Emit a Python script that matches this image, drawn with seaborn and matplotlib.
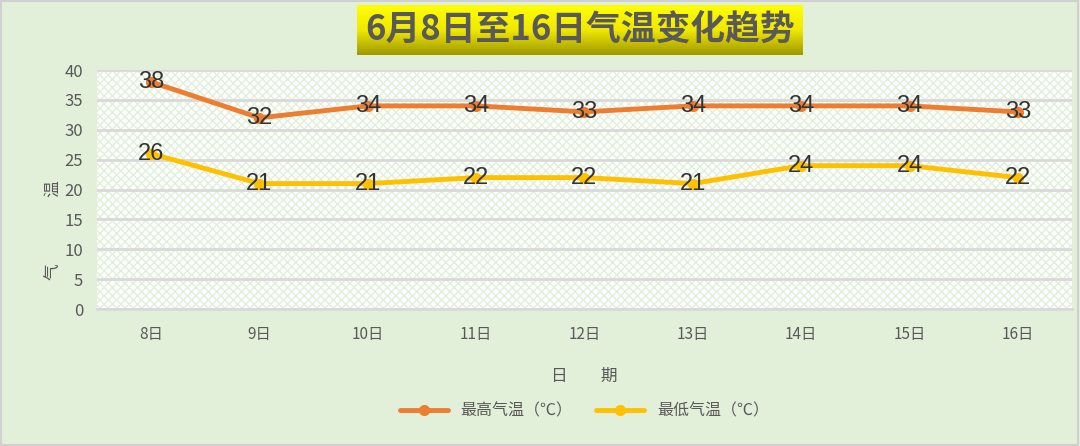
import numpy as np
import pandas as pd
import matplotlib
matplotlib.use("Agg")
import matplotlib.pyplot as plt
import seaborn as sns
from matplotlib.patches import Rectangle
from matplotlib.colors import LinearSegmentedColormap

days = ["8日", "9日", "10日", "11日", "12日", "13日", "14日", "15日", "16日"]
high = [38, 32, 34, 34, 33, 34, 34, 34, 33]
low = [26, 21, 21, 22, 22, 21, 24, 24, 22]
series_names = ["最高气温（℃）", "最低气温（℃）"]
title = "6月8日至16日气温变化趋势"
yticks = [0, 5, 10, 15, 20, 25, 30, 35, 40]

sns.set_style("white")
plt.rcParams['font.family'] = ['Noto Sans CJK SC', 'DejaVu Sans']

df = pd.DataFrame({
    "day": days * 2,
    "x": list(range(len(days))) * 2,
    "temp": high + low,
    "series": [series_names[0]] * len(days) + [series_names[1]] * len(days),
})

bg = "#E2EFD9"
fig = plt.figure(figsize=(10.8, 4.46), dpi=100, facecolor=bg)
fig.patches.append(Rectangle((0.001, 0.002), 0.997, 0.995, transform=fig.transFigure,
                             fill=False, edgecolor="#D0D0D0", linewidth=1.5))

ax = fig.add_axes([0.0898, 0.307, 0.9028, 0.536])
ax.set_facecolor("white")
ax.add_patch(Rectangle((0, 0), 1, 1, transform=ax.transAxes, facecolor="white",
                       edgecolor="#E0F0D8", hatch="xxxx", linewidth=0, zorder=0))

palette = {series_names[0]: "#ED7D31", series_names[1]: "#FFC000"}
sns.lineplot(data=df, x="x", y="temp", hue="series", palette=palette, ax=ax,
             linewidth=3.5, marker="o", markersize=8, markeredgewidth=0, zorder=3,
             legend=True)

for xi, v in enumerate(high):
    ax.text(xi, v, str(v), ha="center", va="center", fontsize=17, color="#333333",
            family=["Liberation Sans"], zorder=5)
for xi, v in enumerate(low):
    ax.text(xi, v, str(v), ha="center", va="center", fontsize=17, color="#333333",
            family=["Liberation Sans"], zorder=5)

ax.set_xlim(-0.5, len(days) - 0.5)
ax.set_ylim(0, 40)
ax.set_yticks(yticks)
ax.set_xticks(range(len(days)))
ax.set_xticklabels(days)
ax.grid(axis="y", color="#D9D9D9", linewidth=2)
ax.grid(axis="x", visible=False)
ax.set_axisbelow(True)
for s in ["top", "right", "left"]:
    ax.spines[s].set_visible(False)
ax.spines["bottom"].set_color("#D9D9D9")
ax.spines["bottom"].set_linewidth(2)
ax.tick_params(axis="y", labelsize=12, labelcolor="#595959", length=0, pad=10)
ax.tick_params(axis="x", labelsize=11, labelcolor="#595959", length=0, pad=12)
ax.set_xlabel("日　　期", fontsize=12, color="#595959", labelpad=18)
ax.set_ylabel("气　　　　温", fontsize=12, color="#595959")
ax.yaxis.set_label_coords(-0.035, 0.33)

handles, labels = ax.get_legend_handles_labels()
ax.legend(handles, labels, loc="center", bbox_to_anchor=(0.5, -0.425), ncol=2,
          frameon=False, fontsize=11.5, labelcolor="#595959", handlelength=3,
          columnspacing=1.5)

tax = fig.add_axes([357 / 1080, 1 - 55 / 446, (803 - 357) / 1080, 50 / 446])
grad = np.linspace(0, 1, 100).reshape(-1, 1)
cmap = LinearSegmentedColormap.from_list("y", ["#FFFF00", "#F0E800", "#A09800"])
tax.imshow(grad, aspect="auto", cmap=cmap, extent=[0, 1, 0, 1], origin="upper")
tax.set_axis_off()
tax.text(0.5, 0.5, title, ha="center", va="center", fontsize=25, fontweight="bold",
         color="#595959", transform=tax.transAxes)

fig.savefig("out.png", dpi=100, facecolor=bg)
